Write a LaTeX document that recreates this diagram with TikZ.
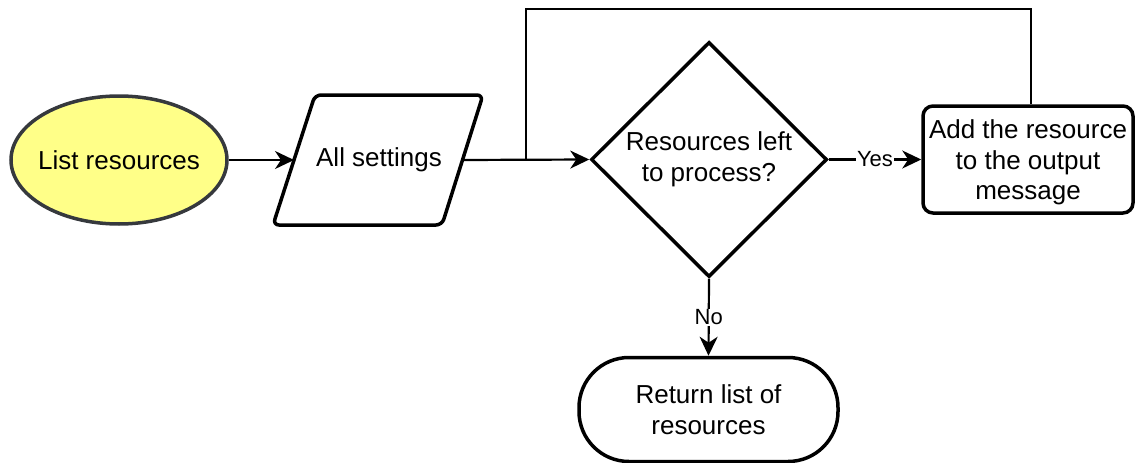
\documentclass[tikz,border=0pt]{standalone}
\usepackage{fontspec}
\setmainfont{Liberation Sans}
\usetikzlibrary{shapes.geometric,arrows.meta,calc}
\definecolor{startfill}{HTML}{FFFF88}
\definecolor{startline}{HTML}{36393D}
\begin{document}
\begin{tikzpicture}[x=1pt,y=-1pt,
  txt/.style={font=\fontsize{26}{30.5}\selectfont, align=center},
  shapeline/.style={line width=3.5pt, line join=round},
  conn/.style={line width=2.2pt, -{Stealth[length=19pt,width=18pt,inset=6pt]}},
  lbl/.style={font=\fontsize{22}{26}\selectfont, fill=white, inner sep=1pt}]
\useasboundingbox (0,0) rectangle (1135,463);

% start ellipse
\node[ellipse, draw=startline, fill=startfill, line width=3.5pt,
      minimum width=216pt, minimum height=128pt, inner sep=0pt, txt] (start) at (119,160)
      {\makebox[0pt]{List resources}};

% parallelogram (data)
\draw[shapeline, rounded corners=6pt] (315,95) -- (483,95) -- (442,225) -- (273,225) -- cycle;
\node[txt] (set) at (379,160) {All settings};
\coordinate (setL) at (294,160);
\coordinate (setR) at (462,160);

% decision
\node[diamond, draw, line width=3.5pt, minimum width=236pt, minimum height=235pt,
      inner sep=0pt, txt] (dec) at (709,159.5) {Resources left\\to process?};

% process
\node[draw, line width=3.5pt, rounded corners=10pt, minimum width=210pt, minimum height=107pt,
      inner sep=0pt, txt] (proc) at (1028,159.5) {};
\node[txt] (proctext) at ([yshift=-3pt]proc.center) {Add the resource\\to the output\\message};

% terminal
\node[draw, line width=3.5pt, rounded corners=50pt, minimum width=259pt, minimum height=104pt,
      inner sep=0pt, txt] (end) at (708.5,409.5) {Return list of\\resources};

% connectors
\draw[conn] (start.east) -- (setL);
\coordinate (jn) at (526,160);
\draw[conn] (setR) -- (dec.west);
\coordinate (loopL) at (526,9);
\coordinate (loopR) at (1031,9);
\draw[line width=1.6pt] (jn) -- (loopL) -- (loopR) -- (proc.north -| loopR);
\draw[conn] (dec.east) -- node[lbl] {Yes} (proc.west);
\draw[conn] (dec.south) -- node[lbl, pos=0.5] {No} (end.north);
\end{tikzpicture}
\end{document}
